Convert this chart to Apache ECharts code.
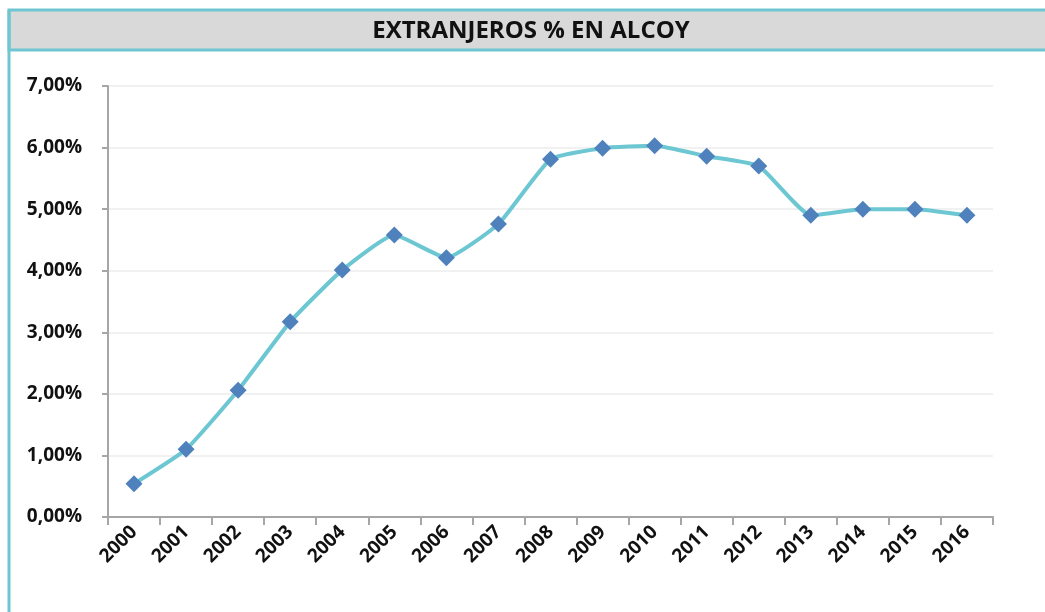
<!DOCTYPE html>
<html>
<head>
<meta charset="utf-8">
<script src="https://cdn.jsdelivr.net/npm/echarts@6/dist/echarts.min.js"></script>
<style>
  html, body { margin: 0; padding: 0; background: #fff; }
  #chart { width: 1045px; height: 612px; }
</style>
</head>
<body>
<div id="chart"></div>
<script>
const years = ['2000', '2001', '2002', '2003', '2004', '2005', '2006', '2007', '2008',
  '2009', '2010', '2011', '2012', '2013', '2014', '2015', '2016']
const extranjeros = [0.54, 1.10, 2.06, 3.17, 4.01, 4.58, 4.21, 4.76, 5.81,
  5.99, 6.03, 5.86, 5.70, 4.90, 5.00, 5.00, 4.90]
const titleText = 'EXTRANJEROS % EN ALCOY'

const chart = echarts.init(document.getElementById('chart'))
const labelFont = '"Open Sans", "Liberation Sans", sans-serif'

chart.setOption({
  animation: false,
  backgroundColor: '#fff',
  graphic: [
    {
      type: 'rect',
      shape: { x: 9, y: 10, width: 1040, height: 40 },
      style: { fill: '#d9d9d9', stroke: '#6ec6d2', lineWidth: 3 },
      z: 0
    },
    {
      type: 'line',
      shape: { x1: 9, y1: 10, x2: 9, y2: 612 },
      style: { stroke: '#6ec6d2', lineWidth: 3 },
      z: 1
    },
    {
      type: 'text',
      x: 531,
      y: 31,
      style: {
        text: titleText,
        fill: '#111',
        font: 'bold 24px ' + labelFont,
        align: 'center',
        verticalAlign: 'middle'
      },
      z: 2
    }
  ],
  grid: {
    left: 108,
    right: 52,
    top: 86,
    bottom: 95
  },
  xAxis: {
    type: 'category',
    data: years,
    boundaryGap: true,
    axisLine: { lineStyle: { color: '#a6a6a6', width: 2 } },
    axisTick: { show: true, length: 8, lineStyle: { color: '#a6a6a6', width: 2 } },
    axisLabel: {
      rotate: 45,
      margin: 12,
      color: '#111',
      fontWeight: 'bold',
      fontSize: 19,
      fontFamily: labelFont
    },
    splitLine: { show: false }
  },
  yAxis: {
    type: 'value',
    min: 0,
    max: 7,
    interval: 1,
    axisLine: { show: true, lineStyle: { color: '#a6a6a6', width: 2 } },
    axisTick: { show: true, length: 6, lineStyle: { color: '#a6a6a6', width: 2 } },
    axisLabel: {
      margin: 26,
      color: '#111',
      fontWeight: 'bold',
      fontSize: 19,
      fontFamily: labelFont,
      formatter: (v) => v.toFixed(2).replace('.', ',') + '%'
    },
    splitLine: { lineStyle: { color: '#ececec', width: 1.5 } }
  },
  series: [
    {
      type: 'line',
      data: extranjeros,
      smooth: 0.15,
      symbol: 'diamond',
      symbolSize: 17,
      itemStyle: { color: '#4f81bd' },
      lineStyle: { color: '#6cc7d3', width: 4 }
    }
  ]
})
</script>
</body>
</html>
